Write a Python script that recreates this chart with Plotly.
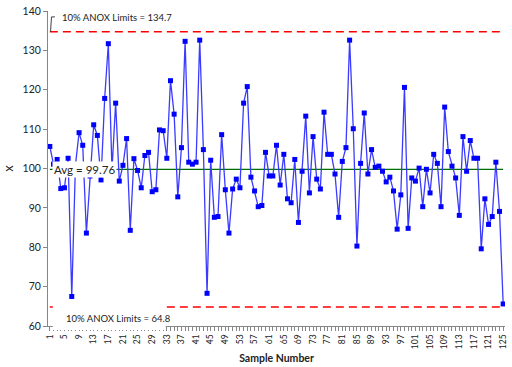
import plotly.graph_objects as go

samples = list(range(1, 126))
values = [
    105.6, 101.1, 102.3, 94.9, 95.1, 102.6, 67.5, 100.8, 109.1, 105.9,
    83.6, 98.1, 111.1, 108.4, 97.1, 117.8, 131.7, 99.7, 116.6, 96.8,
    100.8, 107.6, 84.3, 102.5, 99.5, 95.1, 103.3, 104.1, 94.1, 94.6,
    109.8, 109.6, 102.6, 122.3, 113.8, 92.8, 105.3, 132.3, 101.6, 101.1,
    101.6, 132.6, 104.8, 68.3, 102.1, 87.6, 87.8, 108.6, 94.6, 83.6,
    94.8, 97.3, 95.1, 116.6, 120.8, 97.8, 94.3, 90.3, 90.6, 104.1,
    98.1, 98.1, 105.9, 95.8, 103.6, 92.3, 91.3, 102.3, 86.3, 99.3,
    113.3, 93.8, 108.1, 97.3, 94.8, 114.3, 103.6, 103.6, 98.6, 87.6,
    101.8, 105.3, 132.6, 110.1, 80.3, 101.3, 114.1, 98.6, 104.8, 100.3,
    100.6, 99.3, 96.6, 97.8, 94.3, 84.6, 93.3, 120.6, 84.8, 97.6,
    96.8, 100.1, 90.3, 99.8, 93.8, 103.6, 101.3, 90.3, 115.6, 104.3,
    100.6, 97.6, 88.1, 108.1, 99.3, 107.1, 102.6, 102.6, 79.6, 92.3,
    85.8, 87.8, 101.6, 89.1, 65.6,
]
avg = 99.76
upper = 134.7
lower = 64.8
x_ticks = list(range(1, 126, 4))
y_ticks = [60, 70, 80, 90, 100, 110, 120, 130, 140]

FONT = "Lato, Liberation Sans, Arial, sans-serif"
AXC = "#868686"

fig = go.Figure()
fig.add_trace(go.Scatter(x=samples, y=[upper] * len(samples), mode="lines",
                         line=dict(color="#FF0000", width=1.5, dash="8px,5px"),
                         hoverinfo="skip", showlegend=False))
fig.add_trace(go.Scatter(x=samples, y=[lower] * len(samples), mode="lines",
                         line=dict(color="#FF0000", width=1.5, dash="8px,5px"),
                         hoverinfo="skip", showlegend=False))
fig.add_trace(go.Scatter(x=samples, y=[avg] * len(samples), mode="lines",
                         line=dict(color="#007000", width=1.2),
                         hoverinfo="skip", showlegend=False))
fig.add_trace(go.Scatter(x=samples, y=values, mode="lines+markers",
                         line=dict(color="#3b3bff", width=1.3),
                         marker=dict(symbol="square", size=5, color="#0000FF"),
                         showlegend=False))

# white box covering part of lower limit line and axis behind label
fig.add_shape(type="rect", xref="x", yref="paper", x0=1.8, x1=32.7,
              y0=-0.013, y1=0.075, fillcolor="white", line=dict(width=0),
              layer="above")
# leader line for upper label
fig.add_shape(type="path", xref="x", yref="y",
              path=f"M 1.19 {upper} L 1.46 138.5 L 2.4 138.5",
              line=dict(color="#404040", width=1), layer="above")

fig.add_annotation(x=3.8, y=138.4, xref="x", yref="y", xanchor="left",
                   yanchor="middle", text=f"10% ANOX Limits = {upper}",
                   showarrow=False, font=dict(family=FONT, size=9.5, color="#222"))
fig.add_annotation(x=4.9, y=0.025, xref="x", yref="paper", xanchor="left",
                   yanchor="middle", text=f"10% ANOX Limits = {lower}",
                   showarrow=False, font=dict(family=FONT, size=9.5, color="#222"))
fig.add_annotation(x=10.4, y=avg, xref="x", yref="y", xanchor="center",
                   yanchor="middle", text=f"Avg = {avg}", showarrow=False,
                   bgcolor="white", borderpad=1,
                   font=dict(family=FONT, size=11.5, color="#222"))

fig.update_layout(
    width=512, height=367,
    margin=dict(l=48, r=4.5, t=9, b=38),
    paper_bgcolor="white", plot_bgcolor="white",
    font=dict(family=FONT, color="#222"),
    showlegend=False,
)
fig.update_xaxes(
    range=[0.5, 125.5], tickmode="array", tickvals=x_ticks,
    ticktext=[str(v) for v in x_ticks], tickangle=-90,
    tickfont=dict(family=FONT, size=8.5, color="#222"),
    ticks="outside", ticklen=4, tickcolor=AXC,
    minor=dict(dtick=1, tick0=0, ticks="outside", ticklen=4, tickcolor=AXC),
    showline=True, linecolor=AXC, linewidth=1, showgrid=False, zeroline=False,
    title=dict(text="<b>Sample Number</b>", font=dict(family=FONT, size=10.5, color="#222"),
               standoff=6),
)
fig.update_yaxes(
    range=[60, 140], tickvals=y_ticks,
    tickfont=dict(family=FONT, size=10.5, color="#222"),
    ticks="outside", ticklen=4, tickcolor=AXC,
    showline=True, linecolor=AXC, linewidth=1, showgrid=False, zeroline=False,
    title=dict(text="x", font=dict(family=FONT, size=13, color="#222"), standoff=8),
)

fig.write_html("out.html", config={"displayModeBar": False},
               post_script="document.body.style.margin='0px';document.body.style.overflow='hidden';")
